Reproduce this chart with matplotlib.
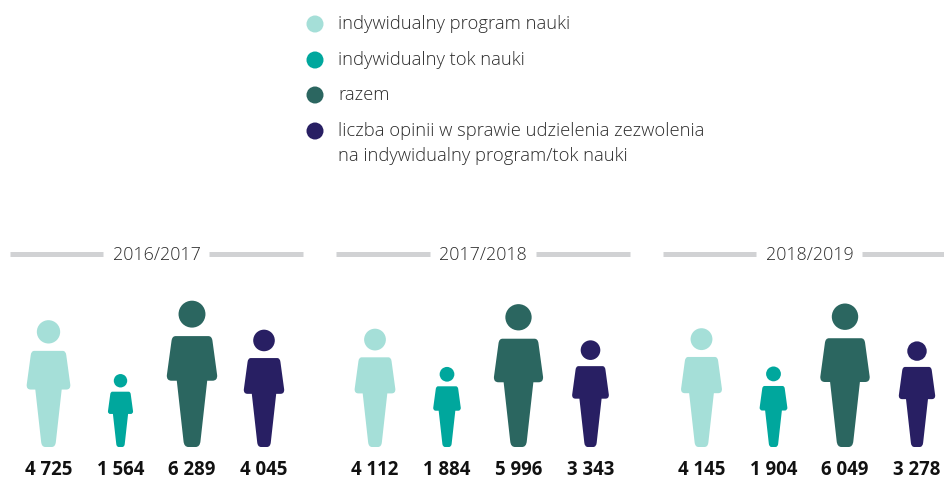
import matplotlib
matplotlib.use('Agg')
import matplotlib.pyplot as plt
from matplotlib.patches import PathPatch, Circle
from matplotlib.path import Path
from matplotlib.transforms import Affine2D
import numpy as np

plt.rcParams['font.family'] = ['Open Sans', 'DejaVu Sans']

years = ['2016/2017', '2017/2018', '2018/2019']
program = [4725, 4112, 4145]
tok = [1564, 1884, 1904]
razem = [6289, 5996, 6049]
opinie = [4045, 3343, 3278]
labels = ['indywidualny program nauki', 'indywidualny tok nauki', 'razem',
          'liczba opinii w sprawie udzielenia zezwolenia\nna indywidualny program/tok nauki']
colors = ['#A5DFD8', '#00A79D', '#2B6660', '#281F63']

GROUP_LEFT = [9.5, 336, 662.5]
OFFSETS = [39, 111, 182.5, 254.5]
BASE_Y = 447
SCALE = 1.845  # height of the figure grows with sqrt(value), so area follows the value


def person_path():
    # unit figure: feet at y=0, top of head at y=1, centred on x=0
    M, L, Q, Z = Path.MOVETO, Path.LINETO, Path.CURVE3, Path.CLOSEPOLY
    right = [
        (L, (0.112, 0.758)),
        (Q, (0.136, 0.758)), (Q, (0.140, 0.725)),
        (L, (0.172, 0.490)),
        (Q, (0.174, 0.453)), (Q, (0.140, 0.453)),
        (L, (0.104, 0.453)),
        (L, (0.058, 0.040)),
        (Q, (0.054, 0.0)), (Q, (0.025, 0.0)),
    ]
    verts = [(0, 0.758)]
    codes = [M]
    for c, v in right:
        codes.append(c)
        verts.append(v)
    # mirror for the left side, walking back up
    mirrored = [(-x, y) for x, y in reversed(verts[:-1])]
    rev_codes = list(reversed(codes[1:]))
    verts.append((-0.025, 0.0))
    codes.append(L)
    for c, v in zip(rev_codes, mirrored):
        codes.append(c)
        verts.append(v)
    codes.append(Z)
    verts.append((0, 0.758))
    # head
    head = Path.circle((0, 0.908), 0.092)
    return Path.make_compound_path(Path(verts, codes), head)


PERSON = person_path()

fig = plt.figure(figsize=(9.45, 4.79), dpi=100)
ax = fig.add_axes([0, 0, 1, 1])
ax.set_xlim(0, 945)
ax.set_ylim(479, 0)
ax.axis('off')

# legend
legend_y = [24, 60, 95, 131]
for label, color, y in zip(labels, colors, legend_y):
    ax.add_patch(Circle((315, y), 8.5, color=color, lw=0))
    ax.text(338, y - 9, label, fontsize=13.25, fontweight='light', color='#2b2b2b',
            va='top', ha='left', linespacing=1.5)

series = [program, tok, razem, opinie]
for g, year in enumerate(years):
    left = GROUP_LEFT[g]
    ax.plot([left, left + 93.5], [254, 254], color='#D1D2D4', lw=3.6, solid_capstyle='butt')
    ax.plot([left + 199.5, left + 293.5], [254, 254], color='#D1D2D4', lw=3.6, solid_capstyle='butt')
    ax.text(left + 147, 255, year, fontsize=12.9, fontweight='light', color='#2b2b2b',
            ha='center', va='center')
    for s, values in enumerate(series):
        v = values[g]
        cx = left + OFFSETS[s]
        h = SCALE * np.sqrt(v)
        tr = Affine2D().scale(h, -h).translate(cx, BASE_Y) + ax.transData
        ax.add_patch(PathPatch(PERSON, facecolor=colors[s], edgecolor='none', transform=tr))
        txt = f'{v:,}'.replace(',', ' ')
        ax.text(cx, 475, txt, fontsize=13.4, fontweight='bold', color='#111111',
                ha='center', va='baseline')

fig.savefig('out.png', dpi=100)
